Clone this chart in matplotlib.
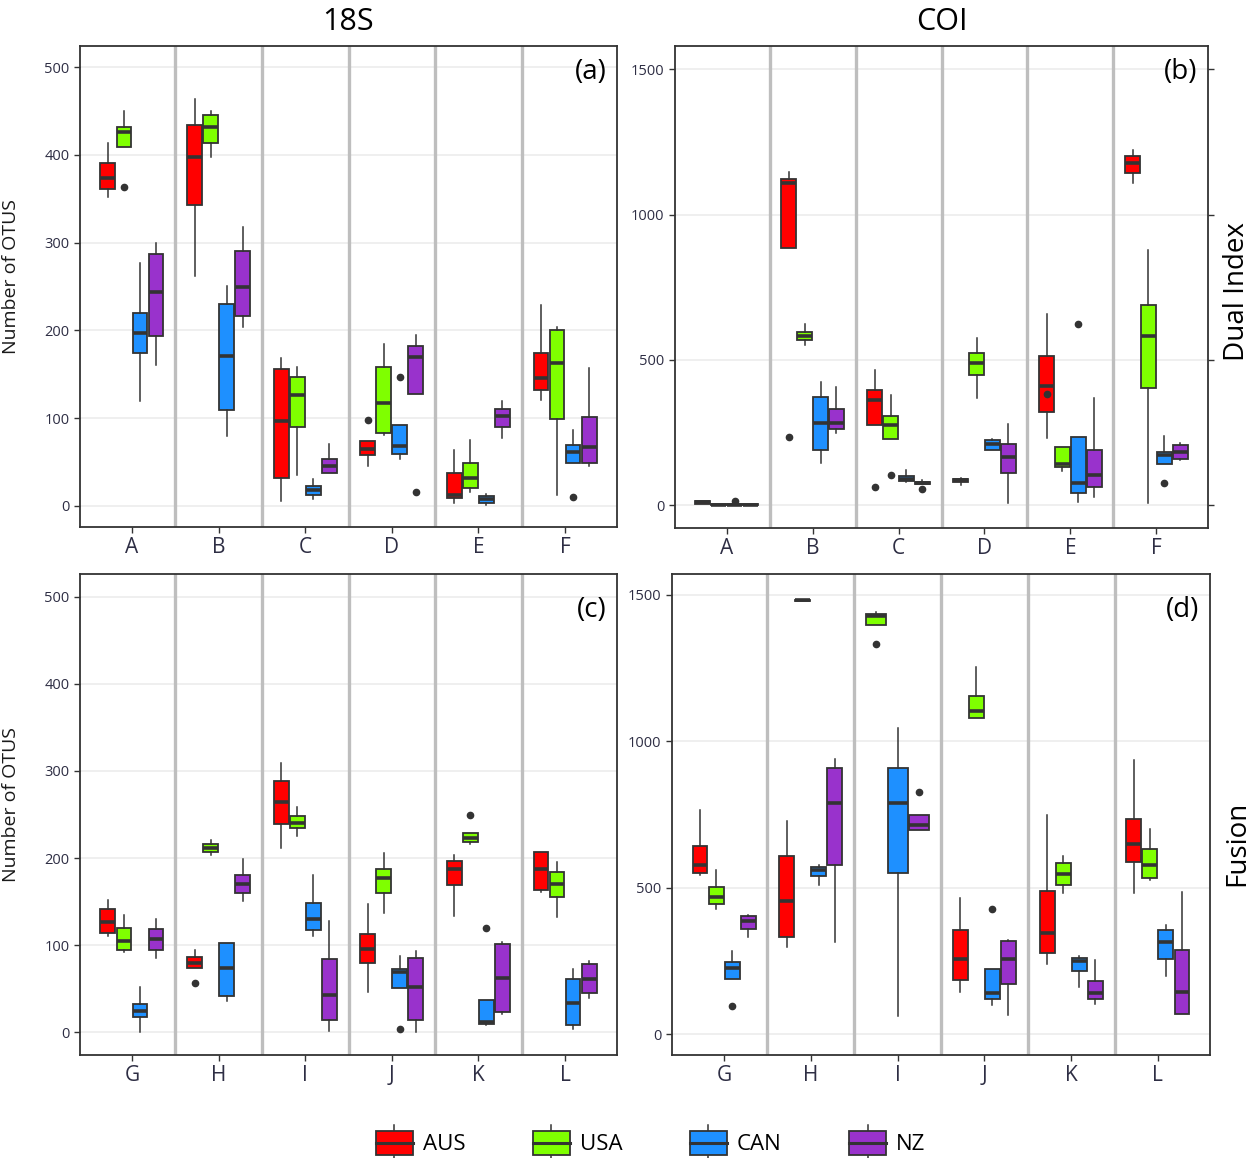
import matplotlib
matplotlib.use("Agg")
import matplotlib.pyplot as plt
from matplotlib.patches import Patch, Rectangle
from matplotlib.lines import Line2D
from matplotlib.legend_handler import HandlerBase

plt.rcParams['font.family'] = ['Open Sans', 'DejaVu Sans']

countries = ['AUS', 'USA', 'CAN', 'NZ']
colors = ['#FF0000', '#7FFF00', '#1E90FF', '#9932CC']
groups_top = ['A', 'B', 'C', 'D', 'E', 'F']
groups_bot = ['G', 'H', 'I', 'J', 'K', 'L']

# (lower whisker, q1, median, q3, upper whisker, outliers) per group
# (a) 18S / Dual Index
a_aus = [(352, 361, 374, 391, 413, []), (262, 343, 397, 434, 464, []), (6, 32, 97, 156, 168, []),
         (45, 58, 65, 74, 74, [98]), (3, 9, 12, 38, 64, []), (121, 132, 146, 174, 229, [])]
a_usa = [(409, 409, 426, 432, 450, [363]), (397, 414, 432, 445, 450, []), (35, 90, 126, 147, 158, []),
         (81, 83, 117, 158, 184, []), (16, 21, 32, 49, 75, []), (12, 99, 163, 200, 204, [])]
a_can = [(119, 174, 197, 220, 277, []), (80, 109, 171, 230, 251, []), (8, 12, 18, 23, 31, []),
         (54, 59, 68, 92, 92, [147]), (1, 3, 8, 11, 14, []), (49, 49, 61, 69, 86, [10])]
a_nz = [(161, 194, 244, 287, 300, []), (204, 216, 250, 291, 318, []), (38, 38, 45, 54, 71, []),
        (127, 127, 170, 182, 195, [16]), (77, 90, 103, 111, 120, []), (46, 49, 67, 101, 157, [])]

# (b) COI / Dual Index
b_aus = [(6, 6, 10, 14, 14, []), (885, 885, 1108, 1123, 1146, [235]), (278, 278, 364, 398, 467, [63]),
         (69, 80, 87, 92, 95, []), (232, 321, 412, 513, 658, [384]), (1108, 1143, 1177, 1200, 1223, [])]
b_usa = [(0, 0, 1, 3, 3, []), (550, 567, 584, 597, 625, []), (229, 229, 277, 306, 378, [106]),
         (370, 447, 490, 524, 576, []), (118, 133, 141, 201, 201, []), (9, 404, 584, 690, 877, [])]
b_can = [(0, 0, 1, 3, 3, [14]), (144, 190, 282, 371, 424, []), (80, 82, 90, 100, 123, []),
         (190, 190, 210, 223, 229, []), (13, 41, 78, 235, 235, [625]), (141, 141, 173, 183, 238, [76])]
b_nz = [(0, 0, 1, 3, 3, []), (250, 261, 282, 330, 406, []), (72, 72, 76, 80, 86, [57]),
        (7, 112, 167, 212, 280, []), (30, 64, 106, 190, 368, []), (156, 161, 184, 207, 215, [])]

# (c) 18S / Fusion
c_aus = [(111, 114, 127, 142, 152, []), (74, 74, 80, 86, 95, [57]), (211, 239, 264, 288, 309, []),
         (46, 80, 96, 113, 147, []), (134, 169, 187, 197, 204, []), (161, 163, 187, 207, 207, [])]
c_usa = [(92, 95, 105, 120, 135, []), (203, 207, 211, 216, 221, []), (225, 234, 240, 248, 259, []),
         (137, 160, 177, 188, 206, []), (216, 218, 223, 229, 229, [249]), (132, 155, 170, 184, 195, [])]
c_can = [(0, 18, 25, 33, 52, []), (36, 42, 74, 103, 103, []), (111, 118, 130, 148, 181, []),
         (51, 51, 69, 73, 88, [4]), (9, 10, 12, 37, 37, [120]), (4, 9, 34, 61, 73, [])]
c_nz = [(85, 95, 107, 119, 130, []), (151, 160, 170, 180, 199, []), (2, 14, 43, 84, 128, []),
        (0, 14, 52, 85, 93, []), (21, 23, 62, 101, 104, []), (39, 45, 61, 78, 82, [])]

# (d) COI / Fusion  (no AUS samples for I)
d_aus = [(543, 550, 576, 642, 765, []), (298, 332, 454, 610, 728, []), None,
         (144, 184, 258, 355, 465, []), (241, 277, 346, 490, 750, []), (482, 589, 648, 736, 935, [])]
d_usa = [(428, 446, 468, 502, 562, []), (1479, 1479, 1481, 1482, 1482, []), (1397, 1397, 1427, 1435, 1441, [1332]),
         (1079, 1079, 1104, 1155, 1252, []), (482, 511, 547, 583, 608, []), (526, 534, 576, 633, 701, [])]
d_can = [(189, 189, 226, 245, 285, [95]), (511, 539, 559, 571, 577, []), (63, 551, 788, 910, 1044, []),
         (100, 120, 140, 224, 224, [428]), (161, 217, 249, 260, 266, []), (200, 257, 315, 355, 372, [])]
d_nz = [(331, 359, 386, 403, 408, []), (314, 577, 788, 910, 941, []), (697, 697, 714, 747, 747, [828]),
        (66, 172, 258, 317, 323, []), (104, 120, 140, 180, 252, []), (70, 70, 144, 289, 486, [])]

EDGE = '#333333'
TICKC = '#2e2e44'


def draw_panel(ax, data, groups, ylim, yticks, tag, tag_y):
    for gi in range(len(groups)):
        present = [(ci, d[gi]) for ci, d in enumerate(data) if d[gi] is not None]
        n = len(present)
        slot = 0.74 / n
        for k, (ci, s) in enumerate(present):
            lo, q1, med, q3, hi, fl = s
            pos = gi + 1 + (k - (n - 1) / 2) * slot
            ax.bxp([dict(whislo=lo, q1=q1, med=med, q3=q3, whishi=hi, fliers=fl)],
                   positions=[pos], widths=slot * 0.93, patch_artist=True,
                   showcaps=False, manage_ticks=False,
                   boxprops=dict(facecolor=colors[ci], edgecolor=EDGE, linewidth=1.3),
                   medianprops=dict(color=EDGE, linewidth=2.6, solid_capstyle='butt'),
                   whiskerprops=dict(color=EDGE, linewidth=1.1),
                   flierprops=dict(marker='o', markerfacecolor=EDGE, markeredgecolor=EDGE,
                                   markersize=4.5))
    for x in range(1, len(groups)):
        ax.axvline(x + 0.5, color='#BEBEBE', lw=2.4, zorder=1)
    ax.set_xlim(0.4, len(groups) + 0.6)
    ax.set_ylim(*ylim)
    ax.set_yticks(yticks)
    ax.set_xticks(range(1, len(groups) + 1))
    ax.set_xticklabels(groups)
    ax.yaxis.grid(True, color='#EBEBEB', lw=1.1)
    ax.set_axisbelow(True)
    for sp in ax.spines.values():
        sp.set_color(EDGE)
        sp.set_linewidth(1.3)
    ax.tick_params(axis='y', labelsize=10.5, colors=EDGE, labelcolor=TICKC, length=4, width=1)
    ax.tick_params(axis='x', labelsize=15, colors=EDGE, labelcolor=TICKC, length=4, width=1, pad=3)
    ax.text(0.98, tag_y, tag, transform=ax.transAxes, ha='right', va='center', fontsize=20)


class BoxKey(HandlerBase):
    def create_artists(self, legend, orig_handle, xdescent, ydescent, width, height, fontsize, trans):
        x0, y0 = -xdescent, -ydescent
        b0, b1 = y0 + 0.14 * height, y0 + 0.86 * height
        xm = x0 + width / 2
        fc = orig_handle.get_facecolor()
        rect = Rectangle((x0, b0), width, b1 - b0, facecolor=fc, edgecolor=EDGE, lw=1.3, transform=trans)
        med = Line2D([x0, x0 + width], [(b0 + b1) / 2] * 2, color=EDGE, lw=2.2, transform=trans)
        w1 = Line2D([xm, xm], [y0 - 0.06 * height, b0], color=EDGE, lw=1.1, transform=trans)
        w2 = Line2D([xm, xm], [b1, y0 + 1.06 * height], color=EDGE, lw=1.1, transform=trans)
        return [w1, w2, rect, med]


fig = plt.figure(figsize=(12.56, 11.58), dpi=100)
W, H = 1256, 1158
ax_a = fig.add_axes([80 / W, 1 - 527 / H, 537 / W, 481 / H])
ax_b = fig.add_axes([675 / W, 1 - 528 / H, 533 / W, 482 / H])
ax_c = fig.add_axes([80 / W, 1 - 1055 / H, 537 / W, 481 / H])
ax_d = fig.add_axes([672 / W, 1 - 1055 / H, 538 / W, 481 / H])

draw_panel(ax_a, [a_aus, a_usa, a_can, a_nz], groups_top, (-24, 524), [0, 100, 200, 300, 400, 500], '(a)', 0.946)
draw_panel(ax_b, [b_aus, b_usa, b_can, b_nz], groups_top, (-78, 1580), [0, 500, 1000, 1500], '(b)', 0.946)
draw_panel(ax_c, [c_aus, c_usa, c_can, c_nz], groups_bot, (-26, 526), [0, 100, 200, 300, 400, 500], '(c)', 0.925)
draw_panel(ax_d, [d_aus, d_usa, d_can, d_nz], groups_bot, (-71, 1571), [0, 500, 1000, 1500], '(d)', 0.925)

for ax in (ax_a, ax_c):
    ax.set_ylabel('Number of OTUS', fontsize=14, color='#1a1a1a')
    ax.yaxis.set_label_coords(-0.112, 0.52)
ax_b.tick_params(axis='y', right=True)

fig.text(348 / W, 1 - 22 / H, '18S', ha='center', va='center', fontsize=22)
fig.text(942 / W, 1 - 22 / H, 'COI', ha='center', va='center', fontsize=22)
fig.text(1237 / W, 1 - 292 / H, 'Dual Index', ha='center', va='center', rotation=90, fontsize=20)
fig.text(1237 / W, 1 - 843 / H, 'Fusion', ha='center', va='center', rotation=90, fontsize=20)

handles = [Patch(facecolor=c, label=n) for c, n in zip(colors, countries)]
fig.legend(handles=handles, loc='center', bbox_to_anchor=(0.518, 1 - 1143 / H), ncol=4,
           frameon=False, fontsize=16, handler_map={Patch: BoxKey()},
           handlelength=1.65, handleheight=1.9, handletextpad=0.45, columnspacing=3.05)

fig.savefig('out.png', dpi=100)
